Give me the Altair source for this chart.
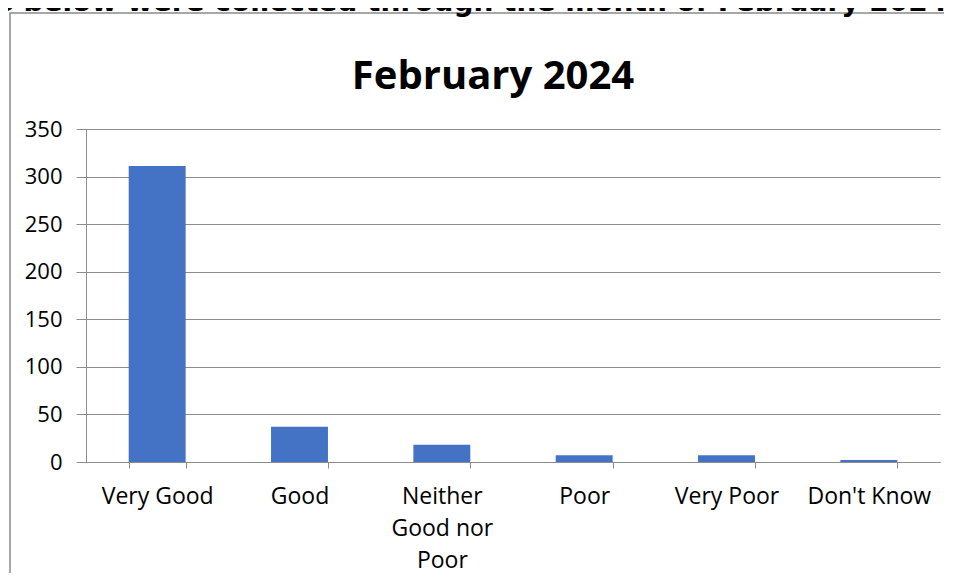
import altair as alt
import pandas as pd

categories = ["Very Good", "Good", "Neither Good nor Poor", "Poor", "Very Poor", "Don't Know"]
counts = [311, 37, 18, 7, 7, 2]
y_ticks = [0, 50, 100, 150, 200, 250, 300, 350]
chart_title = "February 2024"
header_text = "s below were collected through the month of February 2024"

df = pd.DataFrame({"category": categories, "count": counts})

GRID = "#8c8c8c"

bars = alt.Chart(df).mark_bar(color="#4472C4").encode(
    x=alt.X(
        "category:N",
        sort=categories,
        scale=alt.Scale(paddingInner=0.6, paddingOuter=0.3),
        axis=alt.Axis(
            title=None,
            labelAngle=0,
            tickBand="extent",
            tickSize=6,
            tickColor=GRID,
            domainColor=GRID,
            labelFont="Open Sans",
            labelFontSize=23,
            labelColor="#000000",
            labelPadding=17,
            labelLineHeight=32,
            labelBaseline="top",
            labelExpr="datum.value == 'Neither Good nor Poor' ? ['Neither', 'Good nor', 'Poor'] : datum.label",
        ),
    ),
    y=alt.Y(
        "count:Q",
        scale=alt.Scale(domain=[0, 350], nice=False),
        axis=alt.Axis(
            title=None,
            values=y_ticks,
            grid=True,
            gridColor=GRID,
            tickColor=GRID,
            tickSize=10,
            domainColor=GRID,
            labelFont="Open Sans",
            labelFontSize=22,
            labelColor="#000000",
            labelPadding=14,
        ),
    ),
)

frame = alt.Chart(pd.DataFrame({"a": [0]})).mark_rect(
    fill=None, stroke="#8a8a8a", strokeWidth=1.5
).encode(
    x=alt.value(-76), x2=alt.value(1000), y=alt.value(-116), y2=alt.value(600)
)

header = alt.Chart(pd.DataFrame({"t": [header_text]})).mark_text(
    font="DejaVu Sans", fontWeight="bold", fontSize=28, align="left",
    baseline="alphabetic", color="#000000"
).encode(
    text="t:N", x=alt.value(-89), y=alt.value(-118)
)

title = alt.Chart(pd.DataFrame({"t": [chart_title]})).mark_text(
    font="Open Sans", fontWeight="bold", fontSize=40, align="center",
    baseline="alphabetic", color="#000000"
).encode(
    text="t:N", x=alt.value(407), y=alt.value(-40)
)

chart = alt.layer(frame, bars, header, title).properties(
    width=854,
    height=333,
    autosize=alt.AutoSizeParams(type="none"),
    padding={"left": 78, "top": 121, "right": 4, "bottom": 111},
).configure(background="white").configure_view(stroke=None)

chart.save("out.html", embed_options={"renderer": "svg", "actions": False})
